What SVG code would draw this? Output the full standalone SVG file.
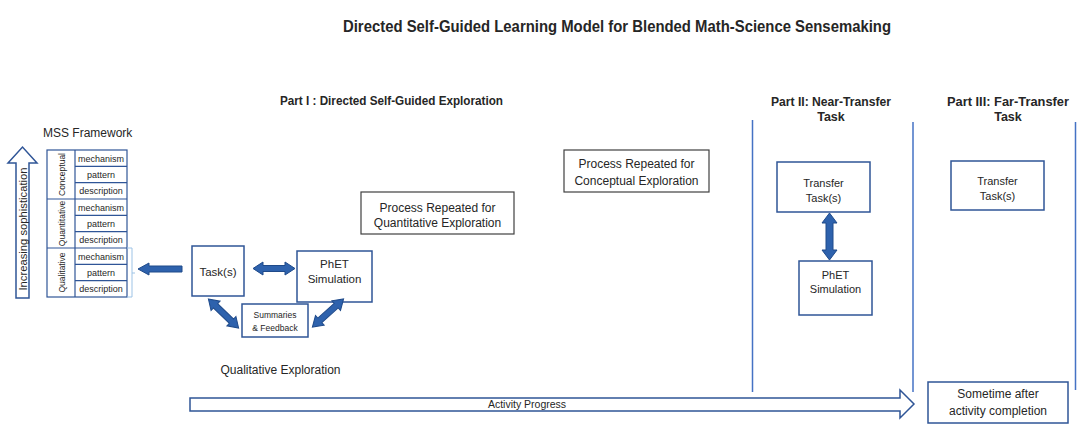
<svg xmlns="http://www.w3.org/2000/svg" width="1080" height="430" viewBox="0 0 1080 430">
<style>
text{font-family:"Liberation Sans",Arial,sans-serif;fill:#262626}
.b{font-weight:bold}
.c{text-anchor:middle}
.box{fill:#fff;stroke:#2f5597;stroke-width:1.5}
.pbox{fill:#fff;stroke:#404040;stroke-width:1.2}
.fa{fill:#2e62ad;stroke:#1f4a8a;stroke-width:1}
.oa{fill:#fff;stroke:#2f5597;stroke-width:1.5}
.vl{stroke:#4472c4;stroke-width:1.5;fill:none}
.grid{fill:none;stroke:#2f5597;stroke-width:1.2}
.cell{font-size:9px;text-anchor:middle}
</style>
<defs>
<path id="dbl" d="M-21,0 L-11,-6.5 L-11,-3 L11,-3 L11,-6.5 L21,0 L11,6.5 L11,3 L-11,3 L-11,6.5 Z"/>
</defs>
<rect width="1080" height="430" fill="#fff"/>

<text class="b c" x="617" y="32" font-size="16.5" textLength="548" lengthAdjust="spacingAndGlyphs">Directed Self-Guided Learning Model for Blended Math-Science Sensemaking</text>

<g id="headings">
<text class="b" x="280" y="105" font-size="12.5" textLength="223" lengthAdjust="spacingAndGlyphs">Part I : Directed Self-Guided Exploration</text>
<text class="b c" x="831" y="106" font-size="12.5" textLength="120" lengthAdjust="spacingAndGlyphs">Part II: Near-Transfer</text>
<text class="b c" x="831" y="121" font-size="12.5">Task</text>
<text class="b c" x="1008" y="106" font-size="12.5" textLength="122" lengthAdjust="spacingAndGlyphs">Part III: Far-Transfer</text>
<text class="b c" x="1008" y="121" font-size="12.5">Task</text>
</g>

<g id="dividers">
<line class="vl" x1="752.5" y1="120" x2="752.5" y2="392"/>
<line class="vl" x1="913" y1="122" x2="913" y2="392"/>
<line class="vl" x1="1075.5" y1="122" x2="1075.5" y2="390"/>
</g>

<g id="sophistication">
<path class="oa" d="M16,298 L16,163 L8,163 L22.5,147 L37,163 L29,163 L29,298 Z"/>
<text class="c" transform="translate(26.5,229) rotate(-90)" font-size="11.5" textLength="123" lengthAdjust="spacingAndGlyphs">Increasing sophistication</text>
</g>

<g id="mss">
<text x="43" y="137" font-size="12">MSS Framework</text>
<rect class="grid" x="47" y="150" width="80" height="147" fill="#fff"/>
<line class="grid" x1="75" y1="150" x2="75" y2="297"/>
<line class="grid" x1="47" y1="199" x2="127" y2="199"/>
<line class="grid" x1="47" y1="248" x2="127" y2="248"/>
<line class="grid" x1="75" y1="166.3" x2="127" y2="166.3"/>
<line class="grid" x1="75" y1="182.7" x2="127" y2="182.7"/>
<line class="grid" x1="75" y1="215.3" x2="127" y2="215.3"/>
<line class="grid" x1="75" y1="231.7" x2="127" y2="231.7"/>
<line class="grid" x1="75" y1="264.3" x2="127" y2="264.3"/>
<line class="grid" x1="75" y1="280.7" x2="127" y2="280.7"/>
<text class="c" transform="translate(64.5,174.5) rotate(-90)" font-size="8.5">Conceptual</text>
<text class="c" transform="translate(64.5,223.5) rotate(-90)" font-size="8.5">Quantitative</text>
<text class="c" transform="translate(64.5,272.5) rotate(-90)" font-size="8.5">Qualitative</text>
<text class="cell" x="101" y="161.5">mechanism</text>
<text class="cell" x="101" y="178">pattern</text>
<text class="cell" x="101" y="194.3">description</text>
<text class="cell" x="101" y="210.5">mechanism</text>
<text class="cell" x="101" y="227">pattern</text>
<text class="cell" x="101" y="243.3">description</text>
<text class="cell" x="101" y="259.5">mechanism</text>
<text class="cell" x="101" y="276">pattern</text>
<text class="cell" x="101" y="292.3">description</text>
<path d="M127,248 H132 V297 H127 M132,273 H135" fill="none" stroke="#9dc3e6" stroke-width="1"/>
</g>

<g id="task">
<rect class="box" x="192" y="246" width="52" height="50"/>
<text class="c" x="218" y="276" font-size="11.5">Task(s)</text>
</g>
<g id="phet1">
<rect class="box" x="297" y="251" width="75" height="51"/>
<text class="c" x="334.5" y="268" font-size="11.5">PhET</text>
<text class="c" x="334.5" y="283" font-size="11.5">Simulation</text>
</g>
<g id="summaries">
<rect class="box" x="242" y="304" width="66" height="33"/>
<text class="c" x="275" y="318" font-size="8.5">Summaries</text>
<text class="c" x="275" y="331" font-size="8.5">&amp; Feedback</text>
</g>
<text class="c" x="280.5" y="374" font-size="12">Qualitative Exploration</text>

<g id="proc-quant">
<rect class="pbox" x="361" y="192" width="153" height="42"/>
<text class="c" x="437.5" y="211.5" font-size="12">Process Repeated for</text>
<text class="c" x="437.5" y="227" font-size="12">Quantitative Exploration</text>
</g>
<g id="proc-concept">
<rect class="pbox" x="564" y="150" width="145" height="42"/>
<text class="c" x="636.5" y="168" font-size="12">Process Repeated for</text>
<text class="c" x="636.5" y="185" font-size="12">Conceptual Exploration</text>
</g>

<g id="near-transfer">
<rect class="box" x="777" y="162" width="93" height="50"/>
<text class="c" x="823.5" y="187" font-size="11">Transfer</text>
<text class="c" x="823.5" y="202" font-size="11">Task(s)</text>
</g>
<g id="phet2">
<rect class="box" x="799" y="261" width="73" height="54"/>
<text class="c" x="835.5" y="279" font-size="11">PhET</text>
<text class="c" x="835.5" y="293" font-size="11">Simulation</text>
</g>
<g id="far-transfer">
<rect class="box" x="951" y="161" width="93" height="49"/>
<text class="c" x="997.5" y="185" font-size="11">Transfer</text>
<text class="c" x="997.5" y="200" font-size="11">Task(s)</text>
</g>

<g id="sometime">
<rect class="box" x="928" y="382" width="140" height="41"/>
<text class="c" x="998" y="398" font-size="12">Sometime after</text>
<text class="c" x="998" y="415" font-size="12">activity completion</text>
</g>

<g id="connectors">
<path class="fa" d="M138,269 L149,263 L149,266 L182,266 L182,272 L149,272 L149,275 Z"/>
<use href="#dbl" class="fa" transform="translate(274,268.5)"/>
<use href="#dbl" class="fa" transform="translate(223.5,313.5) rotate(44)"/>
<use href="#dbl" class="fa" transform="translate(328,313) rotate(138)"/>
<path class="fa" d="M829.5,213 L837,223 L833,223 L833,250 L837,250 L829.5,260 L822,250 L826,250 L826,223 L822,223 Z"/>
<path class="oa" d="M190,398 L900,398 L900,390 L914,404 L900,418 L900,411 L190,411 Z"/>
<text class="c" x="527" y="408" font-size="10.5">Activity Progress</text>
</g>
</svg>
